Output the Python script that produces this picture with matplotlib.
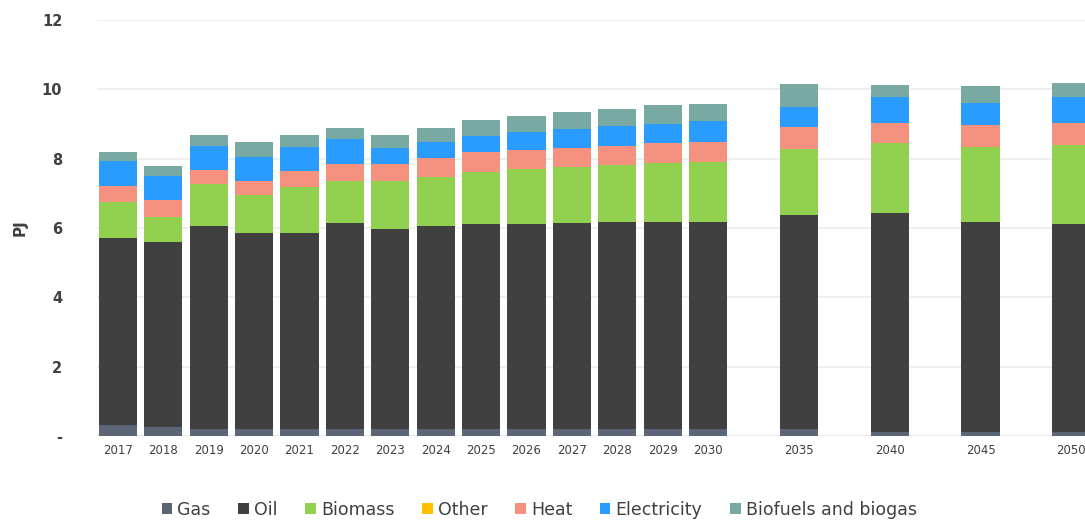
import matplotlib
matplotlib.use("Agg")
import matplotlib.pyplot as plt
import numpy as np

years = ["2017", "2018", "2019", "2020", "2021", "2022", "2023", "2024", "2025",
         "2026", "2027", "2028", "2029", "2030", "2035", "2040", "2045", "2050"]
# slot index of each bar (five-year steps take two slots)
slots = [0, 1, 2, 3, 4, 5, 6, 7, 8, 9, 10, 11, 12, 13, 15, 17, 19, 21]

gas = [0.32, 0.26, 0.20, 0.20, 0.20, 0.20, 0.20, 0.20, 0.20,
       0.20, 0.20, 0.20, 0.20, 0.20, 0.19, 0.12, 0.12, 0.12]
oil = [5.40, 5.33, 5.86, 5.67, 5.67, 5.95, 5.77, 5.86, 5.91,
       5.91, 5.95, 5.98, 5.98, 5.98, 6.18, 6.32, 6.04, 5.99]
biomass = [1.04, 0.74, 1.21, 1.07, 1.30, 1.22, 1.40, 1.41, 1.50,
           1.58, 1.60, 1.65, 1.69, 1.73, 1.90, 2.00, 2.17, 2.28]
other = [0.0] * 18
heat = [0.46, 0.49, 0.40, 0.42, 0.47, 0.48, 0.49, 0.56, 0.57,
        0.56, 0.57, 0.55, 0.59, 0.58, 0.63, 0.60, 0.63, 0.65]
electricity = [0.71, 0.69, 0.71, 0.68, 0.69, 0.71, 0.45, 0.45, 0.48,
               0.51, 0.53, 0.56, 0.55, 0.59, 0.60, 0.75, 0.65, 0.75]
biofuels = [0.26, 0.29, 0.30, 0.43, 0.35, 0.32, 0.38, 0.41, 0.45,
            0.46, 0.50, 0.48, 0.53, 0.51, 0.64, 0.35, 0.50, 0.38]

series = [
    ("Gas", gas, "#5b6575"),
    ("Oil", oil, "#404040"),
    ("Biomass", biomass, "#92d050"),
    ("Other", other, "#ffc000"),
    ("Heat", heat, "#f4927f"),
    ("Electricity", electricity, "#2a9bff"),
    ("Biofuels and biogas", biofuels, "#78a9a3"),
]

fig = plt.figure(figsize=(10.85, 5.2), dpi=100)
ax = fig.add_axes([0.0894, 0.1615, 0.9106, 0.80])

x = np.array(slots, dtype=float)
bottom = np.zeros(len(x))
handles = []
for name, vals, col in series:
    v = np.array(vals)
    h = ax.bar(x, v, width=0.84, bottom=bottom, color=col, label=name,
               linewidth=0, zorder=3)
    handles.append(h)
    bottom += v

ax.set_ylim(0, 12)
ax.set_xlim(-0.46, 21.3)
ax.set_yticks([0, 2, 4, 6, 8, 10, 12])
ax.set_yticklabels(["-", "2", "4", "6", "8", "10", "12"],
                   fontsize=10.5, fontweight="bold", color="#404040")
ax.set_xticks(x)
ax.set_xticklabels(years, fontsize=8.5, color="#404040")
ax.tick_params(axis="both", length=0)
ax.tick_params(axis="y", pad=25)
ax.tick_params(axis="x", pad=6)
ax.grid(axis="y", color="#ececec", linewidth=1.2, zorder=0)
for s in ax.spines.values():
    s.set_visible(False)
ax.axhline(0, color="#e6e6e6", linewidth=1.2, zorder=1)

ax.set_ylabel("PJ", fontsize=11, fontweight="bold", color="#404040", labelpad=10)

fig.legend(handles=handles, loc="center", bbox_to_anchor=(0.497, 0.02),
           ncol=7, frameon=False, handlelength=0.6,
           handleheight=0.6, handletextpad=0.3, columnspacing=1.6,
           labelcolor="#404040",
           prop={"family": ["DejaVu Sans"], "size": 12.5})

fig.savefig("out.png", dpi=100)
